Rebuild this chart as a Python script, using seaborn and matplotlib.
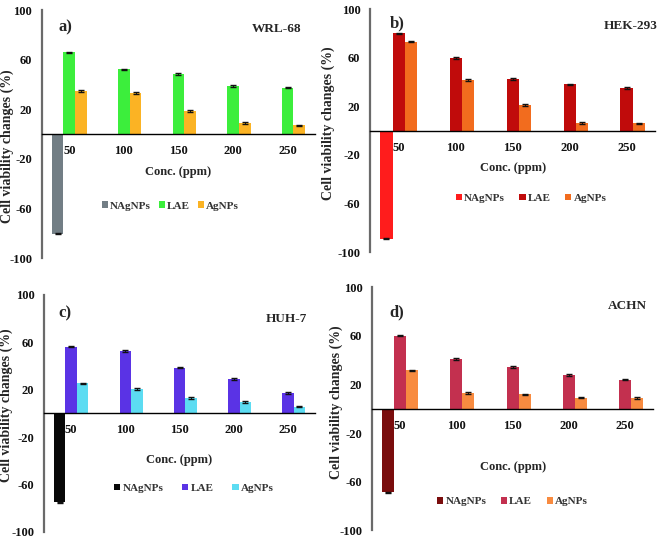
import matplotlib.pyplot as plt
import pandas as pd
import seaborn as sns

conc = ["50", "100", "150", "200", "250"]
series = ["NAgNPs", "LAE", "AgNPs"]

# a) WRL-68
wrl_nag = [-80.2, 0, 0, 0, 0]
wrl_lae = [66.1, 52.3, 48.6, 39.0, 37.6]
wrl_ag = [34.7, 33.1, 18.6, 9.2, 7.2]
# b) HEK-293
hek_nag = [-88.8, 0, 0, 0, 0]
hek_lae = [80.1, 59.8, 42.5, 38.1, 35.1]
hek_ag = [73.3, 41.9, 21.0, 6.3, 6.0]
# c) HUH-7
huh_nag = [-75.2, 0, 0, 0, 0]
huh_lae = [56.2, 52.5, 38.6, 29.0, 17.3]
huh_ag = [25.3, 20.5, 12.7, 9.7, 5.6]
# d) ACHN
achn_nag = [-68.8, 0, 0, 0, 0]
achn_lae = [60.1, 41.0, 34.2, 27.7, 24.0]
achn_ag = [31.5, 13.2, 11.8, 9.2, 8.7]

err_nag = [0.6, 0, 0, 0, 0]
err_lae = [0.6, 0.6, 0.6, 0.6, 0.6]
err_ag = [0.7, 0.7, 0.7, 0.6, 0.6]

panels = [
    ("a)", "WRL-68", [wrl_nag, wrl_lae, wrl_ag], ["#727e85", "#3cee3c", "#fbb324"]),
    ("b)", "HEK-293", [hek_nag, hek_lae, hek_ag], ["#ff1c1c", "#c00b0b", "#f26c1e"]),
    ("c)", "HUH-7", [huh_nag, huh_lae, huh_ag], ["#080808", "#5a33e5", "#5cdcf2"]),
    ("d)", "ACHN", [achn_nag, achn_lae, achn_ag], ["#7a0d0d", "#c3304f", "#f88b40"]),
]

# axes rectangles and legend / label placement per panel
rects = [[0.0635, 0.523, 0.413, 0.458], [0.560, 0.534, 0.431, 0.449],
         [0.0666, 0.017, 0.410, 0.438], [0.563, 0.020, 0.425, 0.449]]
leg_pos = [(0.47, 0.21), (0.565, 0.222), (0.553, 0.183), (0.50, 0.117)]
leg_space = [0.7, 1.3, 1.7, 1.3]
tag_pos = [(0.085, 0.965), (0.095, 0.975), (0.077, 0.955), (0.089, 0.93)]
name_pos = [(0.86, 0.95), (0.915, 0.955), (0.893, 0.925), (0.907, 0.946)]
ylab_pos = [(-0.103, 0.45), (-0.123, 0.53), (-0.114, 0.535), (-0.103, 0.527)]
xlab_pad = [6, 6, 13, 21]

sns.set_style("white")
plt.rcParams['font.family'] = ['Liberation Serif', 'DejaVu Serif']
plt.rcParams['font.weight'] = 'bold'
plt.rcParams['axes.unicode_minus'] = False

fig = plt.figure(figsize=(6.61, 5.41), dpi=100)

for i, (tag, name, vals, cols) in enumerate(panels):
    ax = fig.add_axes(rects[i])
    df = pd.DataFrame({
        "conc": conc * 3,
        "series": [s for s in series for _ in conc],
        "value": vals[0] + vals[1] + vals[2],
    })
    sns.barplot(data=df, x="conc", y="value", hue="series", order=conc,
                hue_order=series, palette=cols, width=0.64, errorbar=None,
                linewidth=0, saturation=1, ax=ax)
    for cont, err in zip(ax.containers, [err_nag, err_lae, err_ag]):
        for p, e in zip(cont.patches, err):
            if e == 0:
                continue
            ax.errorbar(p.get_x() + p.get_width() / 2, p.get_height(), yerr=e,
                        fmt="none", ecolor="#111111", elinewidth=0.7, capsize=2.2,
                        capthick=1.0)
    ax.set_ylim(-100, 100)
    ax.set_xlim(-0.5, 4.5)
    ax.set_yticks([-100, -60, -20, 20, 60, 100])
    ax.tick_params(axis="both", length=0, labelsize=9, colors="#111111")
    ax.tick_params(axis="x", pad=8)
    ax.tick_params(axis="y", pad=7)
    for lab in ax.get_xticklabels() + ax.get_yticklabels():
        lab.set_fontweight("bold")
    ax.spines["top"].set_visible(False)
    ax.spines["right"].set_visible(False)
    ax.spines["bottom"].set_position(("data", 0))
    ax.spines["bottom"].set_color("black")
    ax.spines["bottom"].set_linewidth(1.0)
    ax.spines["left"].set_color("#6a6a6a")
    ax.spines["left"].set_linewidth(1.6)
    ax.set_xlabel("Conc. (ppm)", fontsize=9, fontweight="bold", labelpad=xlab_pad[i])
    ax.set_ylabel("Cell viability changes (%)", fontsize=10, fontweight="bold")
    ax.yaxis.set_label_coords(*ylab_pos[i])
    ax.text(*tag_pos[i], tag, transform=ax.transAxes, fontsize=12,
            fontweight="bold", ha="center", va="top")
    ax.text(*name_pos[i], name, transform=ax.transAxes, fontsize=9.5,
            fontweight="bold", ha="center", va="top")
    ax.legend(loc="center", bbox_to_anchor=leg_pos[i], ncol=3, frameon=False,
              handlelength=0.55, handleheight=0.55, handletextpad=0.2,
              columnspacing=leg_space[i], prop={"size": 8, "weight": "bold"},
              labelcolor="#333333")

fig.savefig("out.png", dpi=100)
